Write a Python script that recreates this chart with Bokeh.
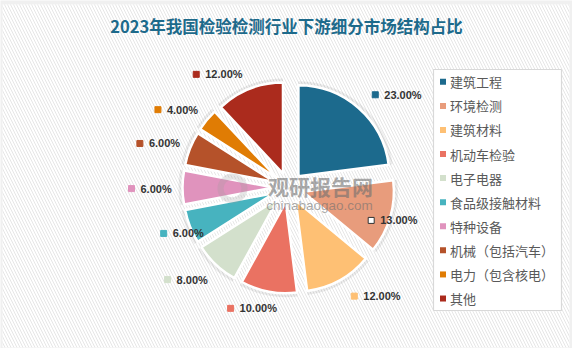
import numpy as np
from bokeh.plotting import figure
from bokeh.models import Range1d
from bokeh.core.properties import value
from bokeh.embed import file_html
from bokeh.resources import INLINE

# ---------------- data ----------------
title = "2023年我国检验检测行业下游细分市场结构占比"
categories = ["建筑工程", "环境检测", "建筑材料", "机动车检验", "电子电器",
              "食品级接触材料", "特种设备", "机械（包括汽车）", "电力（包含核电）", "其他"]
shares = [23, 13, 12, 10, 8, 6, 6, 6, 4, 12]
colors = ["#1c6a8d", "#e89c7c", "#fec074", "#ea7262", "#d3e0cc",
          "#47b3bf", "#e093bd", "#b5522a", "#e07c04", "#ab2b1d"]

# ---------------- layout ----------------
W, H = 572, 348
cx, cy = 288, 161
R = 91
EXPLODE = 15
# data-label placement (radius from centre, angular nudge from slice mid-angle, degrees)
label_r = [127, 89, 127, 134, 152, 133, 157, 155, 152, 146]
label_dth = [1.7, 5.5, -2.4, 14.8, 9.5, 1.4, -0.4, -5.1, -8.8, -17.6]
label_marker_fill = [c for c in colors]
label_marker_fill[1] = "white"
label_marker_line = [c for c in colors]
label_marker_line[1] = "#333333"

FONT_CJK = "Noto Sans CJK SC"

p = figure(width=W, height=H, output_backend="svg", toolbar_location=None,
           x_range=Range1d(0, W), y_range=Range1d(0, H),
           x_axis_location=None, y_axis_location=None, min_border=0)
p.grid.visible = False
p.outline_line_color = None
p.background_fill_color = "#f0f0f0"
p.border_fill_color = "#f0f0f0"

# card background with faint diagonal stripes
p.quad(left=2, right=569, bottom=1, top=344, fill_color="white", line_color=None,
       hatch_pattern="left_diagonal_line", hatch_color="#e6e6e6",
       hatch_scale=6, hatch_weight=1)

# title
p.text(x=[286], y=[323], text=[title], text_font=value(FONT_CJK),
       text_font_style="bold", text_font_size="16.5px", text_color="#1d6a8b",
       text_align="center", text_baseline="middle")

# pie geometry
frac = np.array(shares, dtype=float) / sum(shares)
cum = np.concatenate([[0.0], np.cumsum(frac)])
t0 = cum[:-1] * 2 * np.pi
t1 = cum[1:] * 2 * np.pi
tm = (t0 + t1) / 2
xs = cx + EXPLODE * np.sin(tm)
ys = cy + EXPLODE * np.cos(tm)
start = np.pi / 2 - t1
end = np.pi / 2 - t0

# soft shadow
p.wedge(x=xs, y=ys, radius=R + 4, start_angle=start, end_angle=end,
        fill_color="#000000", fill_alpha=0.07, line_color=None)
p.wedge(x=xs, y=ys, radius=R, start_angle=start, end_angle=end,
        fill_color=colors, line_color="white", line_width=2.5)

# watermark
p.annulus(x=[232], y=[160], inner_radius=9, outer_radius=15,
          fill_color="#9a9a9a", fill_alpha=0.25, line_color=None)
p.text(x=[320], y=[163], text=["观研报告网"], text_font=value(FONT_CJK),
       text_font_style="bold", text_font_size="21px", text_color="#707070",
       text_alpha=0.6, text_align="center", text_baseline="middle")
p.text(x=[319], y=[143], text=["chinabaogao.com"], text_font=value("Liberation Sans"),
       text_font_size="13.5px", text_color="#707070", text_alpha=0.6,
       text_align="center", text_baseline="middle")

# data labels
th = tm + np.radians(label_dth)
lr = np.array(label_r, dtype=float)
mx = cx + lr * np.sin(th)
my = cy + lr * np.cos(th)
p.scatter(x=mx, y=my, marker="square", size=6, fill_color=label_marker_fill,
          line_color=label_marker_line, line_width=1)
p.text(x=mx + 9, y=my, text=[f"{s:.2f}%" for s in shares],
       text_font=value("Liberation Sans"), text_font_style="bold",
       text_font_size="11px", text_color="#333333",
       text_align="left", text_baseline="middle")

# legend
p.quad(left=[433], right=[561], bottom=[38], top=[279], fill_color="white",
       line_color="#d9d9d9", line_width=1.2)
n = len(categories)
ly = 266.7 - 24.08 * np.arange(n)
p.scatter(x=[442.5] * n, y=ly, marker="square", size=6, fill_color=colors, line_color=None)
p.text(x=[449.5] * n, y=ly, text=categories, text_font=value(FONT_CJK),
       text_font_size="13px", text_color="#595959",
       text_align="left", text_baseline="middle")

open("out.html", "w").write(file_html(p, INLINE))
